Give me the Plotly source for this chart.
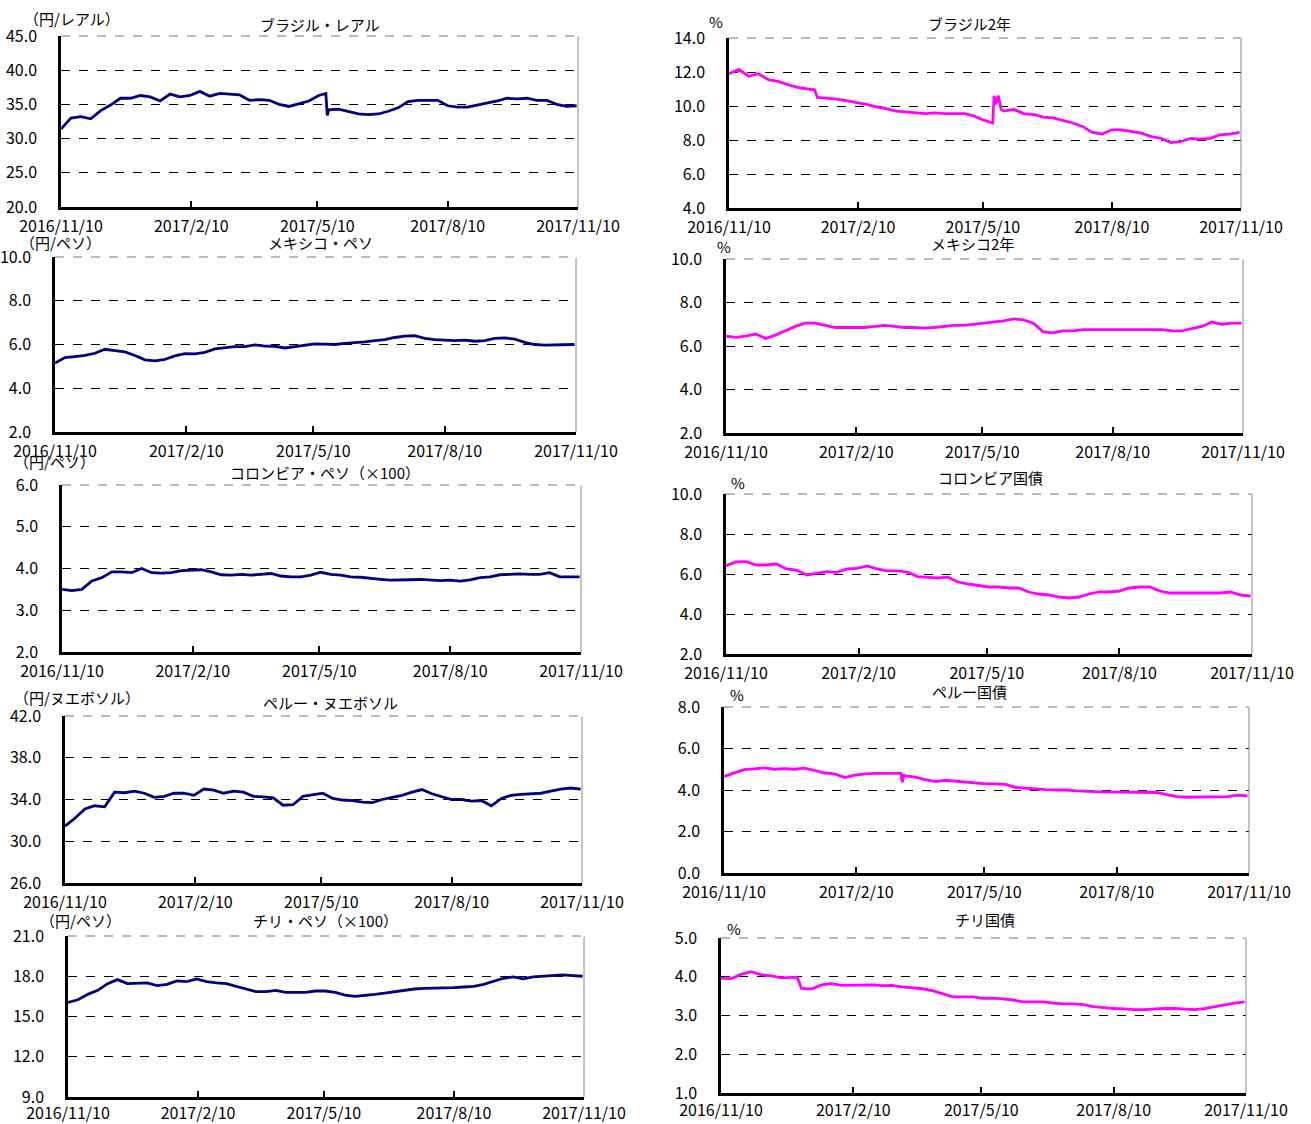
import pandas as pd
import plotly.graph_objects as go

# ---------------- data ----------------
start = pd.Timestamp("2016-11-10")
end = pd.Timestamp("2017-11-10")
week_days = list(range(0, 365, 7))  # weekly observations, day offsets from 2016/11/10

tick_dates = ["2016-11-10", "2017-02-10", "2017-05-10", "2017-08-10", "2017-11-10"]
tick_text = ["2016/11/10", "2017/2/10", "2017/5/10", "2017/8/10", "2017/11/10"]

brl = [31.4, 33.0, 33.2, 32.9, 34.1, 34.9, 35.9, 35.9, 36.3, 36.1, 35.5, 36.5, 36.1, 36.3,
       36.9, 36.2, 36.6, 36.5, 36.4, 35.6, 35.7, 35.6, 35.0, 34.7, 35.1, 35.5, 36.3, 34.2,
       34.3, 34.0, 33.6, 33.5, 33.6, 34.0, 34.5, 35.4, 35.6, 35.6, 35.6, 34.8, 34.6, 34.6,
       34.9, 35.1, 35.5, 35.9, 35.8, 35.9, 35.6, 35.6, 35.0, 34.7, 34.8]
brl_extra_days = [187, 188]
brl_extra_vals = [36.6, 33.4]

br2y = [11.9, 12.15, 11.75, 11.9, 11.55, 11.45, 11.25, 11.1, 11.0, 10.5, 10.45, 10.4, 10.3,
        10.2, 10.1, 9.95, 9.85, 9.7, 9.65, 9.6, 9.55, 9.6, 9.55, 9.55, 9.55, 9.4, 9.15, 10.6,
        9.7, 9.8, 9.55, 9.5, 9.35, 9.3, 9.15, 9.0, 8.8, 8.45, 8.35, 8.6, 8.6, 8.5, 8.4, 8.2,
        8.1, 7.85, 7.9, 8.1, 8.05, 8.1, 8.3, 8.35, 8.45]
br2y_extra_days = [61, 188, 190, 192, 194]
br2y_extra_vals = [10.95, 9.0, 10.1, 10.6, 9.8]

mxn = [5.15, 5.4, 5.45, 5.5, 5.6, 5.78, 5.72, 5.66, 5.5, 5.3, 5.25, 5.32, 5.48, 5.58, 5.57,
       5.64, 5.8, 5.86, 5.9, 5.9, 5.98, 5.93, 5.92, 5.84, 5.9, 5.98, 6.03, 6.02, 6.0, 6.05,
       6.08, 6.12, 6.18, 6.22, 6.32, 6.38, 6.4, 6.28, 6.22, 6.2, 6.18, 6.2, 6.15, 6.18, 6.28,
       6.3, 6.25, 6.1, 6.0, 5.97, 5.98, 5.96, 6.0]

mx2y = [6.45, 6.4, 6.45, 6.55, 6.35, 6.5, 6.7, 6.9, 7.05, 7.05, 6.95, 6.85, 6.85, 6.85, 6.85,
        6.9, 6.95, 6.9, 6.85, 6.85, 6.82, 6.85, 6.9, 6.95, 6.95, 7.0, 7.05, 7.1, 7.15, 7.25,
        7.2, 7.05, 6.65, 6.6, 6.7, 6.7, 6.75, 6.75, 6.75, 6.75, 6.75, 6.75, 6.75, 6.75, 6.75,
        6.7, 6.7, 6.8, 6.9, 7.1, 7.0, 7.05, 7.05]

cop = [3.5, 3.47, 3.5, 3.7, 3.78, 3.92, 3.92, 3.9, 4.0, 3.9, 3.89, 3.9, 3.95, 3.96, 3.97,
       3.92, 3.85, 3.84, 3.86, 3.84, 3.86, 3.88, 3.82, 3.8, 3.8, 3.84, 3.91, 3.86, 3.84, 3.8,
       3.79, 3.76, 3.74, 3.72, 3.72, 3.73, 3.74, 3.72, 3.71, 3.72, 3.7, 3.73, 3.78, 3.8, 3.85,
       3.86, 3.87, 3.86, 3.86, 3.9, 3.8, 3.8, 3.8]

co_bond = [6.41, 6.6, 6.62, 6.45, 6.45, 6.5, 6.25, 6.2, 5.95, 6.03, 6.12, 6.08, 6.25, 6.28,
           6.4, 6.25, 6.16, 6.16, 6.1, 5.87, 5.84, 5.8, 5.84, 5.6, 5.5, 5.42, 5.35, 5.35, 5.3,
           5.3, 5.1, 5.0, 4.95, 4.85, 4.8, 4.85, 5.0, 5.1, 5.1, 5.15, 5.3, 5.35, 5.35, 5.15,
           5.05, 5.05, 5.05, 5.05, 5.05, 5.05, 5.1, 4.95, 4.9]

pen = [31.45, 32.2, 33.1, 33.4, 33.3, 34.7, 34.65, 34.8, 34.6, 34.2, 34.3, 34.6, 34.6, 34.4,
       35.0, 34.9, 34.6, 34.8, 34.7, 34.3, 34.25, 34.15, 33.45, 33.5, 34.3, 34.45, 34.6, 34.1,
       33.95, 33.9, 33.75, 33.7, 34.0, 34.2, 34.4, 34.7, 34.95, 34.55, 34.25, 34.0, 34.0,
       33.85, 33.9, 33.4, 34.1, 34.4, 34.5, 34.55, 34.6, 34.8, 35.0, 35.1, 35.0]

pe_bond = [4.65, 4.8, 4.98, 5.02, 5.07, 5.0, 5.03, 5.0, 5.05, 4.94, 4.82, 4.78, 4.6, 4.72,
           4.78, 4.8, 4.8, 4.8, 4.68, 4.62, 4.5, 4.4, 4.47, 4.42, 4.37, 4.35, 4.3, 4.3, 4.27,
           4.12, 4.08, 4.05, 4.02, 4.0, 4.0, 3.96, 3.93, 3.9, 3.9, 3.9, 3.9, 3.9, 3.9, 3.88,
           3.78, 3.68, 3.65, 3.65, 3.65, 3.65, 3.68, 3.75, 3.72]
pe_bond_extra_days = [123, 124, 125]
pe_bond_extra_vals = [4.8, 4.37, 4.7]

clp = [16.05, 16.25, 16.65, 16.95, 17.45, 17.75, 17.45, 17.45, 17.5, 17.3, 17.4, 17.65, 17.6,
       17.8, 17.6, 17.5, 17.45, 17.25, 17.05, 16.85, 16.85, 16.95, 16.8, 16.8, 16.8, 16.9,
       16.9, 16.8, 16.6, 16.5, 16.55, 16.65, 16.75, 16.85, 17.0, 17.05, 17.1, 17.1, 17.1,
       17.15, 17.2, 17.25, 17.4, 17.65, 17.85, 17.95, 17.8, 17.95, 18.0, 18.05, 18.1, 18.05, 18.0]

cl_bond = [3.96, 3.95, 4.06, 4.13, 4.05, 4.02, 3.97, 3.99, 3.7, 3.68, 3.79, 3.82, 3.78, 3.78,
           3.78, 3.79, 3.77, 3.78, 3.74, 3.72, 3.69, 3.64, 3.55, 3.48, 3.48, 3.48, 3.44, 3.45,
           3.43, 3.4, 3.35, 3.35, 3.35, 3.32, 3.3, 3.3, 3.28, 3.23, 3.2, 3.18, 3.17, 3.15, 3.15,
           3.17, 3.18, 3.18, 3.17, 3.15, 3.18, 3.23, 3.27, 3.32, 3.35]
cl_bond_extra_days = [53]
cl_bond_extra_vals = [3.99]

# ---------------- layout spec ----------------
W, H = 1311, 1124
NAVY = "#000080"
MAGENTA = "#FF00FF"
FONT = "Noto Sans CJK JP, Noto Sans, sans-serif"

panels = [
    dict(vals=brl, xd=brl_extra_days, xv=brl_extra_vals, box=(61, 36, 578, 207), yr=(20, 45), dt=5,
         color=NAVY, title="ブラジル・レアル", tpos=(320, 24), unit="（円/レアル）", upos=(22, 18), xs=3),
    dict(vals=br2y, xd=br2y_extra_days, xv=br2y_extra_vals, box=(729, 38, 1241, 208), yr=(4, 14), dt=2,
         color=MAGENTA, title="ブラジル2年", tpos=(970, 23), unit="%", upos=(707, 22), xs=3),
    dict(vals=mxn, xd=[], xv=[], box=(55, 257, 576, 432), yr=(2, 10), dt=2,
         color=NAVY, title="メキシコ・ペソ", tpos=(320, 243), unit="（円/ペソ）", upos=(18, 243), xs=3),
    dict(vals=mx2y, xd=[], xv=[], box=(726, 259, 1243, 433), yr=(2, 10), dt=2,
         color=MAGENTA, title="メキシコ2年", tpos=(972, 244), unit="%", upos=(715, 246), xs=3),
    dict(vals=cop, xd=[], xv=[], box=(62, 485, 581, 652), yr=(2, 6), dt=1,
         color=NAVY, title="コロンビア・ペソ（×100）", tpos=(325, 472), unit="（円/ペソ）", upos=(12, 462), xs=3),
    dict(vals=co_bond, xd=[], xv=[], box=(726, 494, 1252, 654), yr=(2, 10), dt=2,
         color=MAGENTA, title="コロンビア国債", tpos=(990, 477), unit="%", upos=(729, 482), xs=3),
    dict(vals=pen, xd=[], xv=[], box=(65, 716, 582, 883), yr=(26, 42), dt=4,
         color=NAVY, title="ペルー・ヌエボソル", tpos=(330, 702), unit="（円/ヌエボソル）", upos=(12, 697), xs=3),
    dict(vals=pe_bond, xd=pe_bond_extra_days, xv=pe_bond_extra_vals, box=(724, 707, 1249, 873), yr=(0, 8), dt=2,
         color=MAGENTA, title="ペルー国債", tpos=(970, 691), unit="%", upos=(728, 694), xs=3),
    dict(vals=clp, xd=[], xv=[], box=(68, 936, 584, 1097), yr=(9, 21), dt=3,
         color=NAVY, title="チリ・ペソ（×100）", tpos=(325, 920), unit="（円/ペソ）", upos=(38, 920), xs=0),
    dict(vals=cl_bond, xd=cl_bond_extra_days, xv=cl_bond_extra_vals, box=(721, 938, 1246, 1093), yr=(1, 5), dt=1,
         color=MAGENTA, title="チリ国債", tpos=(985, 919), unit="%", upos=(725, 928), xs=1),
]

fig = go.Figure()
annotations = []
shapes = []
layout_axes = {}

for i, p in enumerate(panels, start=1):
    days = week_days + p["xd"]
    vals = p["vals"] + p["xv"]
    pairs = sorted(zip(days, vals))
    dates = [start + pd.Timedelta(days=d) for d, _ in pairs]
    ys = [v for _, v in pairs]
    xa = "x" if i == 1 else f"x{i}"
    ya = "y" if i == 1 else f"y{i}"
    fig.add_trace(go.Scatter(x=dates, y=ys, mode="lines", xaxis=xa, yaxis=ya,
                             line=dict(color=p["color"], width=2.8), showlegend=False,
                             hoverinfo="skip"))
    l, t, r, b = p["box"]
    lo, hi = p["yr"]
    ticks = []
    v = lo
    while v <= hi + 1e-9:
        ticks.append(v)
        v += p["dt"]
    xkey = "xaxis" if i == 1 else f"xaxis{i}"
    ykey = "yaxis" if i == 1 else f"yaxis{i}"
    layout_axes[xkey] = dict(
        domain=[l / W, r / W], anchor=ya, type="date", automargin=False,
        range=[start, end], tickmode="array", tickvals=tick_dates, ticktext=tick_text,
        ticks="inside", ticklen=6, tickwidth=1.5, tickcolor="black",
        showline=True, linecolor="black", linewidth=2.5, showgrid=False, zeroline=False,
        tickfont=dict(family=FONT, size=16, color="black"), ticklabelstandoff=p["xs"],
        fixedrange=True,
    )
    layout_axes[ykey] = dict(
        domain=[1 - b / H, 1 - t / H], anchor=xa, range=[lo, hi], automargin=False,
        tickmode="array", tickvals=ticks, ticktext=[f"{tv:.1f}" for tv in ticks],
        ticks="", showline=True, linecolor="black", linewidth=2.5,
        showgrid=True, gridcolor="black", gridwidth=1, griddash="dash", zeroline=False,
        tickfont=dict(family=FONT, size=16, color="black"), ticklabelstandoff=18,
        fixedrange=True,
    )
    # frame: right border solid gray, top border dashed gray
    shapes.append(dict(type="line", xref=f"{xa} domain", yref=f"{ya} domain",
                       x0=1, x1=1, y0=0, y1=1, line=dict(color="#888888", width=1)))
    shapes.append(dict(type="line", xref=f"{xa} domain", yref=f"{ya} domain",
                       x0=0, x1=1, y0=1, y1=1, line=dict(color="white", width=2)))
    shapes.append(dict(type="line", xref=f"{xa} domain", yref=f"{ya} domain",
                       x0=0, x1=1, y0=1, y1=1, line=dict(color="#777777", width=1.2, dash="dash")))
    tx, ty = p["tpos"]
    annotations.append(dict(text=p["title"], x=tx / W, y=1 - ty / H, xref="paper", yref="paper",
                            xanchor="center", yanchor="middle", showarrow=False,
                            font=dict(family=FONT, size=15, color="black")))
    ux, uy = p["upos"]
    annotations.append(dict(text=p["unit"], x=ux / W, y=1 - uy / H, xref="paper", yref="paper",
                            xanchor="left", yanchor="middle", showarrow=False,
                            font=dict(family=FONT, size=15, color="black")))

fig.update_layout(
    width=W, height=H, margin=dict(l=0, r=0, t=0, b=0, autoexpand=False),
    paper_bgcolor="white", plot_bgcolor="white",
    annotations=annotations, shapes=shapes, showlegend=False,
    **layout_axes,
)

fig.write_html("out.html", config={"displayModeBar": False},
               post_script="document.body.style.margin='0';")
